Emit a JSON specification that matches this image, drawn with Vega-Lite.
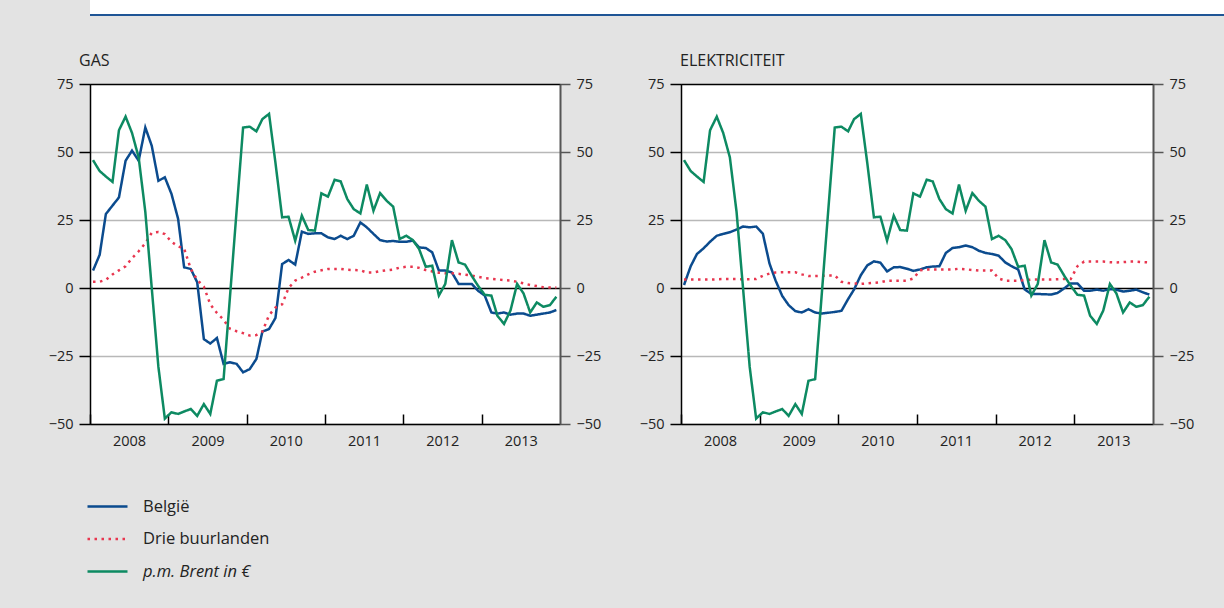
{
"$schema":"https://vega.github.io/schema/vega-lite/v6.json",
"background":"#e3e3e3",
"padding":{"left":47,"top":0,"right":0,"bottom":28},
"config":{
 "font":"Open Sans",
 "view":{"stroke":"#000","strokeWidth":1,"fill":"white"},
 "axis":{"labelFont":"Open Sans","labelFontSize":14.5,"labelColor":"#222","title":null},
 "title":{"font":"Open Sans","fontSize":16,"fontWeight":"normal","color":"#222","anchor":"start","frame":"group","baseline":"alphabetic","offset":7},
 "legend":{"orient":"none","legendX":-4,"legendY":485,"symbolType":"stroke","symbolSize":1600,"symbolStrokeWidth":2.5,"labelFont":"Open Sans","labelFontSize":16.5,"labelColor":"#222","labelOffset":14,"rowPadding":2.5,"direction":"vertical"}
},
"datasets":{
"gas":[
{"d":"2008-01-15","s":"België","v":6.4},{"d":"2008-02-15","s":"België","v":12.2},{"d":"2008-03-15","s":"België","v":27.2},{"d":"2008-04-15","s":"België","v":30.3},{"d":"2008-05-15","s":"België","v":33.3},{"d":"2008-06-15","s":"België","v":46.8},{"d":"2008-07-15","s":"België","v":50.5},{"d":"2008-08-15","s":"België","v":46.8},{"d":"2008-09-15","s":"België","v":59},{"d":"2008-10-15","s":"België","v":52.3},{"d":"2008-11-15","s":"België","v":39.4},{"d":"2008-12-15","s":"België","v":40.7},
{"d":"2009-01-15","s":"België","v":34.6},{"d":"2009-02-15","s":"België","v":25.4},{"d":"2009-03-15","s":"België","v":7.6},{"d":"2009-04-15","s":"België","v":7},{"d":"2009-05-15","s":"België","v":2.1},{"d":"2009-06-15","s":"België","v":-18.8},{"d":"2009-07-15","s":"België","v":-20.4},{"d":"2009-08-15","s":"België","v":-18.4},{"d":"2009-09-15","s":"België","v":-27.9},{"d":"2009-10-15","s":"België","v":-27.3},{"d":"2009-11-15","s":"België","v":-27.9},{"d":"2009-12-15","s":"België","v":-31},
{"d":"2010-01-15","s":"België","v":-29.8},{"d":"2010-02-15","s":"België","v":-26.1},{"d":"2010-03-15","s":"België","v":-16},{"d":"2010-04-15","s":"België","v":-15.1},{"d":"2010-05-15","s":"België","v":-11},{"d":"2010-06-15","s":"België","v":8.8},{"d":"2010-07-15","s":"België","v":10.3},{"d":"2010-08-15","s":"België","v":8.6},{"d":"2010-09-15","s":"België","v":20.7},{"d":"2010-10-15","s":"België","v":19.9},{"d":"2010-11-15","s":"België","v":20.1},{"d":"2010-12-15","s":"België","v":20.1},
{"d":"2011-01-15","s":"België","v":18.6},{"d":"2011-02-15","s":"België","v":18},{"d":"2011-03-15","s":"België","v":19.2},{"d":"2011-04-15","s":"België","v":18},{"d":"2011-05-15","s":"België","v":19.2},{"d":"2011-06-15","s":"België","v":24.1},{"d":"2011-07-15","s":"België","v":22.3},{"d":"2011-08-15","s":"België","v":19.9},{"d":"2011-09-15","s":"België","v":17.6},{"d":"2011-10-15","s":"België","v":17.1},{"d":"2011-11-15","s":"België","v":17.3},{"d":"2011-12-15","s":"België","v":17},
{"d":"2012-01-15","s":"België","v":17},{"d":"2012-02-15","s":"België","v":17.4},{"d":"2012-03-15","s":"België","v":14.9},{"d":"2012-04-15","s":"België","v":14.7},{"d":"2012-05-15","s":"België","v":13.1},{"d":"2012-06-15","s":"België","v":6.4},{"d":"2012-07-15","s":"België","v":6.4},{"d":"2012-08-15","s":"België","v":5.7},{"d":"2012-09-15","s":"België","v":1.5},{"d":"2012-10-15","s":"België","v":1.5},{"d":"2012-11-15","s":"België","v":1.5},{"d":"2012-12-15","s":"België","v":-1},
{"d":"2013-01-15","s":"België","v":-2.8},{"d":"2013-02-15","s":"België","v":-9},{"d":"2013-03-15","s":"België","v":-9.4},{"d":"2013-04-15","s":"België","v":-9},{"d":"2013-05-15","s":"België","v":-9.8},{"d":"2013-06-15","s":"België","v":-9.4},{"d":"2013-07-15","s":"België","v":-9.4},{"d":"2013-08-15","s":"België","v":-10.2},{"d":"2013-09-15","s":"België","v":-9.8},{"d":"2013-10-15","s":"België","v":-9.4},{"d":"2013-11-15","s":"België","v":-9},{"d":"2013-12-15","s":"België","v":-8.1},
{"d":"2008-01-15","s":"Drie buurlanden","v":2.3},{"d":"2008-02-15","s":"Drie buurlanden","v":2.3},{"d":"2008-03-15","s":"Drie buurlanden","v":3},{"d":"2008-04-15","s":"Drie buurlanden","v":5},{"d":"2008-05-15","s":"Drie buurlanden","v":6.5},{"d":"2008-06-15","s":"Drie buurlanden","v":8},{"d":"2008-07-15","s":"Drie buurlanden","v":11},{"d":"2008-08-15","s":"Drie buurlanden","v":13.5},{"d":"2008-09-15","s":"Drie buurlanden","v":16.5},{"d":"2008-10-15","s":"Drie buurlanden","v":20.3},{"d":"2008-11-15","s":"Drie buurlanden","v":20.6},{"d":"2008-12-15","s":"Drie buurlanden","v":19.8},
{"d":"2009-01-15","s":"Drie buurlanden","v":17},{"d":"2009-02-15","s":"Drie buurlanden","v":15.3},{"d":"2009-03-15","s":"Drie buurlanden","v":14.5},{"d":"2009-04-15","s":"Drie buurlanden","v":7},{"d":"2009-05-15","s":"Drie buurlanden","v":3},{"d":"2009-06-15","s":"Drie buurlanden","v":0.5},{"d":"2009-07-15","s":"Drie buurlanden","v":-6},{"d":"2009-08-15","s":"Drie buurlanden","v":-9.2},{"d":"2009-09-15","s":"Drie buurlanden","v":-11.7},{"d":"2009-10-15","s":"Drie buurlanden","v":-15},{"d":"2009-11-15","s":"Drie buurlanden","v":-15.9},{"d":"2009-12-15","s":"Drie buurlanden","v":-16.6},
{"d":"2010-01-15","s":"Drie buurlanden","v":-17.5},{"d":"2010-02-15","s":"Drie buurlanden","v":-17.3},{"d":"2010-03-15","s":"Drie buurlanden","v":-16},{"d":"2010-04-15","s":"Drie buurlanden","v":-10},{"d":"2010-05-15","s":"Drie buurlanden","v":-7.2},{"d":"2010-06-15","s":"Drie buurlanden","v":-6},{"d":"2010-07-15","s":"Drie buurlanden","v":0},{"d":"2010-08-15","s":"Drie buurlanden","v":2.7},{"d":"2010-09-15","s":"Drie buurlanden","v":3.8},{"d":"2010-10-15","s":"Drie buurlanden","v":5},{"d":"2010-11-15","s":"Drie buurlanden","v":6},{"d":"2010-12-15","s":"Drie buurlanden","v":6.5},
{"d":"2011-01-15","s":"Drie buurlanden","v":7},{"d":"2011-02-15","s":"Drie buurlanden","v":7},{"d":"2011-03-15","s":"Drie buurlanden","v":7},{"d":"2011-04-15","s":"Drie buurlanden","v":6.7},{"d":"2011-05-15","s":"Drie buurlanden","v":6.6},{"d":"2011-06-15","s":"Drie buurlanden","v":6.5},{"d":"2011-07-15","s":"Drie buurlanden","v":5.7},{"d":"2011-08-15","s":"Drie buurlanden","v":5.7},{"d":"2011-09-15","s":"Drie buurlanden","v":6.2},{"d":"2011-10-15","s":"Drie buurlanden","v":6.5},{"d":"2011-11-15","s":"Drie buurlanden","v":6.8},{"d":"2011-12-15","s":"Drie buurlanden","v":7.5},
{"d":"2012-01-15","s":"Drie buurlanden","v":7.8},{"d":"2012-02-15","s":"Drie buurlanden","v":7.8},{"d":"2012-03-15","s":"Drie buurlanden","v":7.4},{"d":"2012-04-15","s":"Drie buurlanden","v":6.6},{"d":"2012-05-15","s":"Drie buurlanden","v":6.1},{"d":"2012-06-15","s":"Drie buurlanden","v":5.6},{"d":"2012-07-15","s":"Drie buurlanden","v":5.4},{"d":"2012-08-15","s":"Drie buurlanden","v":5.4},{"d":"2012-09-15","s":"Drie buurlanden","v":5.2},{"d":"2012-10-15","s":"Drie buurlanden","v":4.9},{"d":"2012-11-15","s":"Drie buurlanden","v":4.6},{"d":"2012-12-15","s":"Drie buurlanden","v":4.1},
{"d":"2013-01-15","s":"Drie buurlanden","v":3.6},{"d":"2013-02-15","s":"Drie buurlanden","v":3.4},{"d":"2013-03-15","s":"Drie buurlanden","v":3.2},{"d":"2013-04-15","s":"Drie buurlanden","v":2.9},{"d":"2013-05-15","s":"Drie buurlanden","v":2.7},{"d":"2013-06-15","s":"Drie buurlanden","v":2.3},{"d":"2013-07-15","s":"Drie buurlanden","v":1.7},{"d":"2013-08-15","s":"Drie buurlanden","v":1.1},{"d":"2013-09-15","s":"Drie buurlanden","v":0.7},{"d":"2013-10-15","s":"Drie buurlanden","v":0.3},{"d":"2013-11-15","s":"Drie buurlanden","v":0.2},{"d":"2013-12-15","s":"Drie buurlanden","v":0.2}
],
"elek":[
{"d":"2008-01-15","s":"België","v":1.1},{"d":"2008-02-15","s":"België","v":8},{"d":"2008-03-15","s":"België","v":12.5},{"d":"2008-04-15","s":"België","v":14.6},{"d":"2008-05-15","s":"België","v":17},{"d":"2008-06-15","s":"België","v":19.2},{"d":"2008-07-15","s":"België","v":19.9},{"d":"2008-08-15","s":"België","v":20.5},{"d":"2008-09-15","s":"België","v":21.5},{"d":"2008-10-15","s":"België","v":22.6},{"d":"2008-11-15","s":"België","v":22.3},{"d":"2008-12-15","s":"België","v":22.6},
{"d":"2009-01-15","s":"België","v":20},{"d":"2009-02-15","s":"België","v":9},{"d":"2009-03-15","s":"België","v":2.8},{"d":"2009-04-15","s":"België","v":-2.9},{"d":"2009-05-15","s":"België","v":-6.3},{"d":"2009-06-15","s":"België","v":-8.5},{"d":"2009-07-15","s":"België","v":-9},{"d":"2009-08-15","s":"België","v":-7.8},{"d":"2009-09-15","s":"België","v":-9},{"d":"2009-10-15","s":"België","v":-9.4},{"d":"2009-11-15","s":"België","v":-9.1},{"d":"2009-12-15","s":"België","v":-8.8},
{"d":"2010-01-15","s":"België","v":-8.4},{"d":"2010-02-15","s":"België","v":-4.1},{"d":"2010-03-15","s":"België","v":-0.5},{"d":"2010-04-15","s":"België","v":4.7},{"d":"2010-05-15","s":"België","v":8.3},{"d":"2010-06-15","s":"België","v":9.8},{"d":"2010-07-15","s":"België","v":9.3},{"d":"2010-08-15","s":"België","v":6.1},{"d":"2010-09-15","s":"België","v":7.6},{"d":"2010-10-15","s":"België","v":7.7},{"d":"2010-11-15","s":"België","v":7.1},{"d":"2010-12-15","s":"België","v":6.3},
{"d":"2011-01-15","s":"België","v":6.8},{"d":"2011-02-15","s":"België","v":7.6},{"d":"2011-03-15","s":"België","v":7.9},{"d":"2011-04-15","s":"België","v":8},{"d":"2011-05-15","s":"België","v":12.9},{"d":"2011-06-15","s":"België","v":14.7},{"d":"2011-07-15","s":"België","v":15},{"d":"2011-08-15","s":"België","v":15.6},{"d":"2011-09-15","s":"België","v":15},{"d":"2011-10-15","s":"België","v":13.7},{"d":"2011-11-15","s":"België","v":12.9},{"d":"2011-12-15","s":"België","v":12.5},
{"d":"2012-01-15","s":"België","v":11.9},{"d":"2012-02-15","s":"België","v":9.4},{"d":"2012-03-15","s":"België","v":8},{"d":"2012-04-15","s":"België","v":6.8},{"d":"2012-05-15","s":"België","v":-0.5},{"d":"2012-06-15","s":"België","v":-2.2},{"d":"2012-07-15","s":"België","v":-2.2},{"d":"2012-08-15","s":"België","v":-2.3},{"d":"2012-09-15","s":"België","v":-2.4},{"d":"2012-10-15","s":"België","v":-1.8},{"d":"2012-11-15","s":"België","v":-0.1},{"d":"2012-12-15","s":"België","v":1.7},
{"d":"2013-01-15","s":"België","v":1.7},{"d":"2013-02-15","s":"België","v":-1},{"d":"2013-03-15","s":"België","v":-1},{"d":"2013-04-15","s":"België","v":-0.6},{"d":"2013-05-15","s":"België","v":-1},{"d":"2013-06-15","s":"België","v":-0.4},{"d":"2013-07-15","s":"België","v":-0.6},{"d":"2013-08-15","s":"België","v":-1.3},{"d":"2013-09-15","s":"België","v":-1},{"d":"2013-10-15","s":"België","v":-0.6},{"d":"2013-11-15","s":"België","v":-1.6},{"d":"2013-12-15","s":"België","v":-2.4},
{"d":"2008-01-15","s":"Drie buurlanden","v":3.1},{"d":"2008-02-15","s":"Drie buurlanden","v":3.1},{"d":"2008-03-15","s":"Drie buurlanden","v":3.1},{"d":"2008-04-15","s":"Drie buurlanden","v":3.1},{"d":"2008-05-15","s":"Drie buurlanden","v":3.1},{"d":"2008-06-15","s":"Drie buurlanden","v":3.2},{"d":"2008-07-15","s":"Drie buurlanden","v":3.3},{"d":"2008-08-15","s":"Drie buurlanden","v":3.3},{"d":"2008-09-15","s":"Drie buurlanden","v":3.3},{"d":"2008-10-15","s":"Drie buurlanden","v":3.2},{"d":"2008-11-15","s":"Drie buurlanden","v":3.2},{"d":"2008-12-15","s":"Drie buurlanden","v":3.3},
{"d":"2009-01-15","s":"Drie buurlanden","v":4.5},{"d":"2009-02-15","s":"Drie buurlanden","v":5.3},{"d":"2009-03-15","s":"Drie buurlanden","v":5.7},{"d":"2009-04-15","s":"Drie buurlanden","v":5.8},{"d":"2009-05-15","s":"Drie buurlanden","v":5.8},{"d":"2009-06-15","s":"Drie buurlanden","v":5.8},{"d":"2009-07-15","s":"Drie buurlanden","v":5},{"d":"2009-08-15","s":"Drie buurlanden","v":4.4},{"d":"2009-09-15","s":"Drie buurlanden","v":4.4},{"d":"2009-10-15","s":"Drie buurlanden","v":4.5},{"d":"2009-11-15","s":"Drie buurlanden","v":4.6},{"d":"2009-12-15","s":"Drie buurlanden","v":4.6},
{"d":"2010-01-15","s":"Drie buurlanden","v":2.3},{"d":"2010-02-15","s":"Drie buurlanden","v":1.8},{"d":"2010-03-15","s":"Drie buurlanden","v":1.7},{"d":"2010-04-15","s":"Drie buurlanden","v":1.5},{"d":"2010-05-15","s":"Drie buurlanden","v":1.7},{"d":"2010-06-15","s":"Drie buurlanden","v":1.9},{"d":"2010-07-15","s":"Drie buurlanden","v":2.1},{"d":"2010-08-15","s":"Drie buurlanden","v":2.7},{"d":"2010-09-15","s":"Drie buurlanden","v":2.7},{"d":"2010-10-15","s":"Drie buurlanden","v":2.7},{"d":"2010-11-15","s":"Drie buurlanden","v":2.7},{"d":"2010-12-15","s":"Drie buurlanden","v":3.5},
{"d":"2011-01-15","s":"Drie buurlanden","v":6.5},{"d":"2011-02-15","s":"Drie buurlanden","v":6.8},{"d":"2011-03-15","s":"Drie buurlanden","v":6.8},{"d":"2011-04-15","s":"Drie buurlanden","v":6.8},{"d":"2011-05-15","s":"Drie buurlanden","v":6.8},{"d":"2011-06-15","s":"Drie buurlanden","v":6.8},{"d":"2011-07-15","s":"Drie buurlanden","v":7.1},{"d":"2011-08-15","s":"Drie buurlanden","v":6.9},{"d":"2011-09-15","s":"Drie buurlanden","v":6.6},{"d":"2011-10-15","s":"Drie buurlanden","v":6.4},{"d":"2011-11-15","s":"Drie buurlanden","v":6.4},{"d":"2011-12-15","s":"Drie buurlanden","v":6.4},
{"d":"2012-01-15","s":"Drie buurlanden","v":3.5},{"d":"2012-02-15","s":"Drie buurlanden","v":2.7},{"d":"2012-03-15","s":"Drie buurlanden","v":2.7},{"d":"2012-04-15","s":"Drie buurlanden","v":2.7},{"d":"2012-05-15","s":"Drie buurlanden","v":2.9},{"d":"2012-06-15","s":"Drie buurlanden","v":3.1},{"d":"2012-07-15","s":"Drie buurlanden","v":3.1},{"d":"2012-08-15","s":"Drie buurlanden","v":3.1},{"d":"2012-09-15","s":"Drie buurlanden","v":3.1},{"d":"2012-10-15","s":"Drie buurlanden","v":3.2},{"d":"2012-11-15","s":"Drie buurlanden","v":3.3},{"d":"2012-12-15","s":"Drie buurlanden","v":3.3},
{"d":"2013-01-15","s":"Drie buurlanden","v":8},{"d":"2013-02-15","s":"Drie buurlanden","v":9.7},{"d":"2013-03-15","s":"Drie buurlanden","v":9.7},{"d":"2013-04-15","s":"Drie buurlanden","v":9.7},{"d":"2013-05-15","s":"Drie buurlanden","v":9.7},{"d":"2013-06-15","s":"Drie buurlanden","v":9.5},{"d":"2013-07-15","s":"Drie buurlanden","v":9.4},{"d":"2013-08-15","s":"Drie buurlanden","v":9.5},{"d":"2013-09-15","s":"Drie buurlanden","v":9.7},{"d":"2013-10-15","s":"Drie buurlanden","v":9.7},{"d":"2013-11-15","s":"Drie buurlanden","v":9.5},{"d":"2013-12-15","s":"Drie buurlanden","v":9.4}
],
"brent":[
{"d":"2008-01-15","s":"p.m. Brent in €","v":47},{"d":"2008-02-15","s":"p.m. Brent in €","v":43},{"d":"2008-03-15","s":"p.m. Brent in €","v":41},{"d":"2008-04-15","s":"p.m. Brent in €","v":39},{"d":"2008-05-15","s":"p.m. Brent in €","v":58},{"d":"2008-06-15","s":"p.m. Brent in €","v":63},{"d":"2008-07-15","s":"p.m. Brent in €","v":57},{"d":"2008-08-15","s":"p.m. Brent in €","v":48},{"d":"2008-09-15","s":"p.m. Brent in €","v":28},{"d":"2008-10-15","s":"p.m. Brent in €","v":0},{"d":"2008-11-15","s":"p.m. Brent in €","v":-29},{"d":"2008-12-15","s":"p.m. Brent in €","v":-48},
{"d":"2009-01-15","s":"p.m. Brent in €","v":-45.7},{"d":"2009-02-15","s":"p.m. Brent in €","v":-46.3},{"d":"2009-03-15","s":"p.m. Brent in €","v":-45.4},{"d":"2009-04-15","s":"p.m. Brent in €","v":-44.5},{"d":"2009-05-15","s":"p.m. Brent in €","v":-47},{"d":"2009-06-15","s":"p.m. Brent in €","v":-42.7},{"d":"2009-07-15","s":"p.m. Brent in €","v":-46.3},{"d":"2009-08-15","s":"p.m. Brent in €","v":-34.1},{"d":"2009-09-15","s":"p.m. Brent in €","v":-33.5},{"d":"2009-10-15","s":"p.m. Brent in €","v":-3},{"d":"2009-11-15","s":"p.m. Brent in €","v":28.7},{"d":"2009-12-15","s":"p.m. Brent in €","v":59},
{"d":"2010-01-15","s":"p.m. Brent in €","v":59.3},{"d":"2010-02-15","s":"p.m. Brent in €","v":57.6},{"d":"2010-03-15","s":"p.m. Brent in €","v":62.1},{"d":"2010-04-15","s":"p.m. Brent in €","v":64},{"d":"2010-05-15","s":"p.m. Brent in €","v":46},{"d":"2010-06-15","s":"p.m. Brent in €","v":26},{"d":"2010-07-15","s":"p.m. Brent in €","v":26.2},{"d":"2010-08-15","s":"p.m. Brent in €","v":17.4},{"d":"2010-09-15","s":"p.m. Brent in €","v":26.6},{"d":"2010-10-15","s":"p.m. Brent in €","v":21.3},{"d":"2010-11-15","s":"p.m. Brent in €","v":21.1},{"d":"2010-12-15","s":"p.m. Brent in €","v":34.8},
{"d":"2011-01-15","s":"p.m. Brent in €","v":33.6},{"d":"2011-02-15","s":"p.m. Brent in €","v":39.8},{"d":"2011-03-15","s":"p.m. Brent in €","v":39.2},{"d":"2011-04-15","s":"p.m. Brent in €","v":32.7},{"d":"2011-05-15","s":"p.m. Brent in €","v":29},{"d":"2011-06-15","s":"p.m. Brent in €","v":27.4},{"d":"2011-07-15","s":"p.m. Brent in €","v":38},{"d":"2011-08-15","s":"p.m. Brent in €","v":28.4},{"d":"2011-09-15","s":"p.m. Brent in €","v":34.9},{"d":"2011-10-15","s":"p.m. Brent in €","v":32.1},{"d":"2011-11-15","s":"p.m. Brent in €","v":29.9},{"d":"2011-12-15","s":"p.m. Brent in €","v":18},
{"d":"2012-01-15","s":"p.m. Brent in €","v":19.2},{"d":"2012-02-15","s":"p.m. Brent in €","v":17.6},{"d":"2012-03-15","s":"p.m. Brent in €","v":14.3},{"d":"2012-04-15","s":"p.m. Brent in €","v":7.8},{"d":"2012-05-15","s":"p.m. Brent in €","v":8.2},{"d":"2012-06-15","s":"p.m. Brent in €","v":-2.8},{"d":"2012-07-15","s":"p.m. Brent in €","v":1.5},{"d":"2012-08-15","s":"p.m. Brent in €","v":17.6},{"d":"2012-09-15","s":"p.m. Brent in €","v":9.4},{"d":"2012-10-15","s":"p.m. Brent in €","v":8.6},{"d":"2012-11-15","s":"p.m. Brent in €","v":4.5},{"d":"2012-12-15","s":"p.m. Brent in €","v":0.8},
{"d":"2013-01-15","s":"p.m. Brent in €","v":-2.5},{"d":"2013-02-15","s":"p.m. Brent in €","v":-2.8},{"d":"2013-03-15","s":"p.m. Brent in €","v":-10.2},{"d":"2013-04-15","s":"p.m. Brent in €","v":-13.2},{"d":"2013-05-15","s":"p.m. Brent in €","v":-8.3},{"d":"2013-06-15","s":"p.m. Brent in €","v":1.5},{"d":"2013-07-15","s":"p.m. Brent in €","v":-2},{"d":"2013-08-15","s":"p.m. Brent in €","v":-9},{"d":"2013-09-15","s":"p.m. Brent in €","v":-5.3},{"d":"2013-10-15","s":"p.m. Brent in €","v":-6.9},{"d":"2013-11-15","s":"p.m. Brent in €","v":-6.3},{"d":"2013-12-15","s":"p.m. Brent in €","v":-3.2}
]
},
"spacing":36,
"vconcat":[
{"width":1134,"height":15,"view":{"fill":"white","stroke":null},
 "data":{"values":[{}]},
 "mark":{"type":"rule","color":"#1f5596","strokeWidth":2},
 "encoding":{"y":{"datum":0,"type":"quantitative","scale":{"domain":[0,1]},"axis":null}}},
{"spacing":36,
 "hconcat":[
 {"width":470,"height":340,
  "title":{"text":"GAS","dx":-11},
  "layer":[
   {"data":{"name":"gas"},"mark":{"type":"line","strokeWidth":2.5},
    "encoding":{
     "x":{"field":"d","type":"temporal","scale":{"type":"utc","domain":[{"year":2008,"month":1,"date":1,"utc":true},{"year":2014,"month":1,"date":1,"utc":true}]},
      "axis":{"values":[{"year":2008,"month":1,"date":1,"utc":true},{"year":2009,"month":1,"date":1,"utc":true},{"year":2010,"month":1,"date":1,"utc":true},{"year":2011,"month":1,"date":1,"utc":true},{"year":2012,"month":1,"date":1,"utc":true},{"year":2013,"month":1,"date":1,"utc":true}],"format":"%Y","labelOffset":39,"tickSize":-10,"tickColor":"#000","tickWidth":1.5,"domainColor":"#000","domainWidth":1.5,"labelPadding":20,"grid":false,"labelFlush":false,"labelBound":false,"labelOverlap":false}},
     "y":{"field":"v","type":"quantitative","scale":{"domain":[-50,75],"nice":false,"zero":false},
      "axis":{"orient":"left","values":[-50,-25,0,25,50,75],"grid":true,"gridColor":{"condition":{"test":"datum.value === 0 || datum.value === 75","value":"#000000"},"value":"#b8b8b8"},"gridWidth":1.5,"tickSize":11,"tickColor":"#000","tickWidth":1.5,"domainColor":"#000","domainWidth":1.5,"labelPadding":6}},
     "color":{"field":"s","type":"nominal","scale":{"domain":["België","Drie buurlanden","p.m. Brent in €"],"range":["#0b4b8e","#e8364f","#0d8a62"]},"legend":{"title":null,"encode":{"labels":{"update":{"fontStyle":{"signal":"datum.value === 'p.m. Brent in €' ? 'italic' : 'normal'"}}}}}},
     "strokeDash":{"field":"s","type":"nominal","scale":{"domain":["België","Drie buurlanden","p.m. Brent in €"],"range":[[1,0],[2.5,4.5],[1,0]]},"legend":{"title":null,"encode":{"labels":{"update":{"fontStyle":{"signal":"datum.value === 'p.m. Brent in €' ? 'italic' : 'normal'"}}}}}}
    }},
   {"data":{"name":"brent"},"mark":{"type":"line","strokeWidth":2.5},
    "encoding":{
     "x":{"field":"d","type":"temporal"},
     "y":{"field":"v","type":"quantitative",
      "axis":{"orient":"right","values":[-50,-25,0,25,50,75],"grid":false,"tickSize":10,"tickColor":"#555","tickWidth":1.5,"domainColor":"#555","domainWidth":2,"labelPadding":6}},
     "color":{"field":"s","type":"nominal","legend":{"title":null,"encode":{"labels":{"update":{"fontStyle":{"signal":"datum.value === 'p.m. Brent in €' ? 'italic' : 'normal'"}}}}}},
     "strokeDash":{"field":"s","type":"nominal","legend":{"title":null,"encode":{"labels":{"update":{"fontStyle":{"signal":"datum.value === 'p.m. Brent in €' ? 'italic' : 'normal'"}}}}}}
    }}
  ],
  "resolve":{"axis":{"y":"independent"}}
 },
 {"width":472,"height":340,
  "title":{"text":"ELEKTRICITEIT","dx":-1},
  "layer":[
   {"data":{"name":"elek"},"mark":{"type":"line","strokeWidth":2.5},
    "encoding":{
     "x":{"field":"d","type":"temporal","scale":{"type":"utc","domain":[{"year":2008,"month":1,"date":1,"utc":true},{"year":2014,"month":1,"date":1,"utc":true}]},
      "axis":{"values":[{"year":2008,"month":1,"date":1,"utc":true},{"year":2009,"month":1,"date":1,"utc":true},{"year":2010,"month":1,"date":1,"utc":true},{"year":2011,"month":1,"date":1,"utc":true},{"year":2012,"month":1,"date":1,"utc":true},{"year":2013,"month":1,"date":1,"utc":true}],"format":"%Y","labelOffset":39,"tickSize":-10,"tickColor":"#000","tickWidth":1.5,"domainColor":"#000","domainWidth":1.5,"labelPadding":20,"grid":false,"labelFlush":false,"labelBound":false,"labelOverlap":false}},
     "y":{"field":"v","type":"quantitative","scale":{"domain":[-50,75],"nice":false,"zero":false},
      "axis":{"orient":"left","values":[-50,-25,0,25,50,75],"grid":true,"gridColor":{"condition":{"test":"datum.value === 0 || datum.value === 75","value":"#000000"},"value":"#b8b8b8"},"gridWidth":1.5,"tickSize":11,"tickColor":"#000","tickWidth":1.5,"domainColor":"#000","domainWidth":1.5,"labelPadding":6}},
     "color":{"field":"s","type":"nominal","scale":{"domain":["België","Drie buurlanden","p.m. Brent in €"],"range":["#0b4b8e","#e8364f","#0d8a62"]},"legend":{"title":null,"encode":{"labels":{"update":{"fontStyle":{"signal":"datum.value === 'p.m. Brent in €' ? 'italic' : 'normal'"}}}}}},
     "strokeDash":{"field":"s","type":"nominal","scale":{"domain":["België","Drie buurlanden","p.m. Brent in €"],"range":[[1,0],[2.5,4.5],[1,0]]},"legend":{"title":null,"encode":{"labels":{"update":{"fontStyle":{"signal":"datum.value === 'p.m. Brent in €' ? 'italic' : 'normal'"}}}}}}
    }},
   {"data":{"name":"brent"},"mark":{"type":"line","strokeWidth":2.5},
    "encoding":{
     "x":{"field":"d","type":"temporal"},
     "y":{"field":"v","type":"quantitative",
      "axis":{"orient":"right","values":[-50,-25,0,25,50,75],"grid":false,"tickSize":10,"tickColor":"#555","tickWidth":1.5,"domainColor":"#555","domainWidth":2,"labelPadding":6}},
     "color":{"field":"s","type":"nominal","legend":{"title":null,"encode":{"labels":{"update":{"fontStyle":{"signal":"datum.value === 'p.m. Brent in €' ? 'italic' : 'normal'"}}}}}},
     "strokeDash":{"field":"s","type":"nominal","legend":{"title":null,"encode":{"labels":{"update":{"fontStyle":{"signal":"datum.value === 'p.m. Brent in €' ? 'italic' : 'normal'"}}}}}}
    }}
  ],
  "resolve":{"axis":{"y":"independent"}}
 }
 ]
}
]
}
